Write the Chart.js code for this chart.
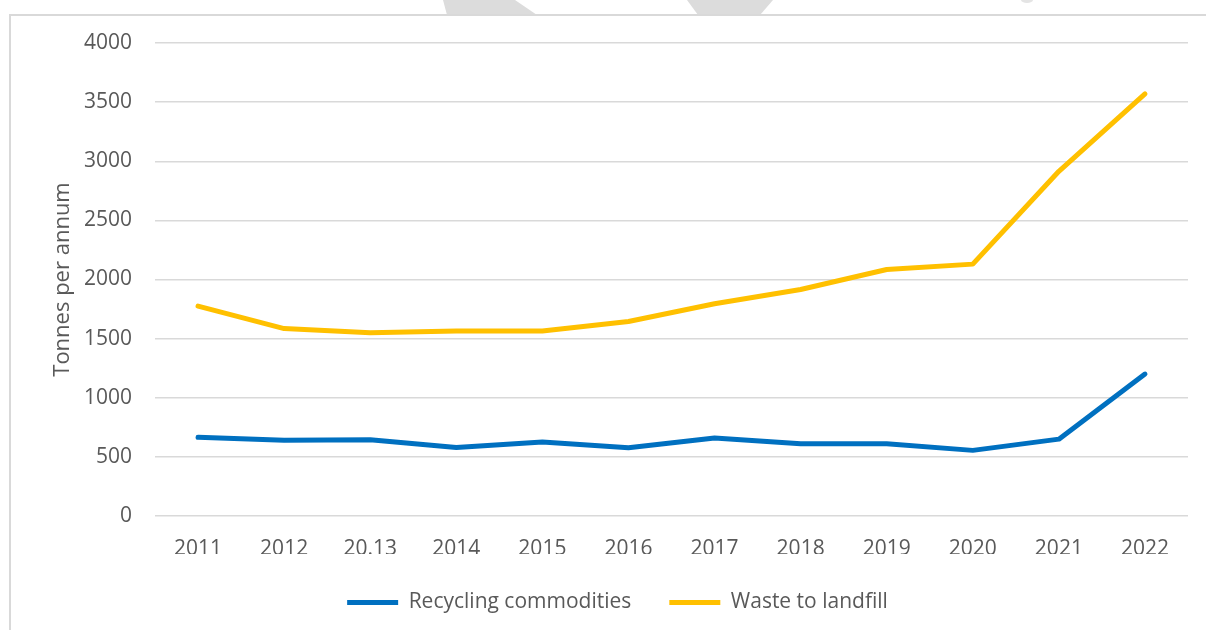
<!DOCTYPE html>
<html>
<head>
<meta charset="utf-8">
<script src="https://cdn.jsdelivr.net/npm/chart.js@4.4.1/dist/chart.umd.min.js"></script>
<style>
  html, body { margin: 0; padding: 0; background: #fff; }
  body { width: 1206px; height: 630px; position: relative; overflow: hidden; }
  .frame { position: absolute; left: 9px; top: 14px; right: -2px; bottom: -2px;
           border-left: 2px solid #d9d9d9; border-top: 2px solid #d9d9d9; }
  .mark { position: absolute; background: #dcdcdc; }
  #mark1 { left: 440px; top: 0; width: 100px; height: 15px;
           clip-path: polygon(3px 0, 75px 0, 97px 15px, 7px 15px); }
  #mark2 { left: 686px; top: 0; width: 90px; height: 15px;
           clip-path: polygon(1px 0, 87px 0, 74px 15px, 12px 15px); }
  #mark3 { left: 1021px; top: -3px; width: 12px; height: 6px; border-radius: 50%; background: #e4e4e4; }
  #wrap { position: absolute; left: 0; top: 0; width: 1206px; height: 630px; }
</style>
</head>
<body>
<div class="mark" id="mark1"></div>
<div class="mark" id="mark2"></div>
<div class="mark" id="mark3"></div>
<div class="frame"></div>
<div id="wrap"><canvas id="chart"></canvas></div>
<script>
// Données
const years = ['2011', '2012', '20.13', '2014', '2015', '2016', '2017', '2018', '2019', '2020', '2021', '2022'];
const recycling = [665, 640, 645, 580, 625, 578, 660, 610, 610, 555, 650, 1200];
const landfill = [1775, 1585, 1550, 1565, 1565, 1645, 1795, 1915, 2085, 2130, 2915, 3570];
const yTicks = [0, 500, 1000, 1500, 2000, 2500, 3000, 3500, 4000];

const textColor = '#595959';
const fontFamily = '"Open Sans", "Noto Sans", sans-serif';

new Chart(document.getElementById('chart'), {
    type: 'line',
    data: {
        labels: years,
        datasets: [{
            label: 'Recycling commodities',
            data: recycling,
            borderColor: '#0070C0',
            backgroundColor: '#0070C0',
            borderWidth: 5,
            borderCapStyle: 'round',
            borderJoinStyle: 'round',
            pointRadius: 0,
            tension: 0
        }, {
            label: 'Waste to landfill',
            data: landfill,
            borderColor: '#FFC000',
            backgroundColor: '#FFC000',
            borderWidth: 5,
            borderCapStyle: 'round',
            borderJoinStyle: 'round',
            pointRadius: 0,
            tension: 0
        }]
    },
    options: {
        responsive: true,
        maintainAspectRatio: false,
        animation: false,
        layout: {
            padding: { left: 47, right: 18, top: 43, bottom: 7 }
        },
        plugins: {
            legend: {
                position: 'bottom',
                labels: {
                    usePointStyle: true,
                    pointStyle: 'line',
                    pointStyleWidth: 51,
                    padding: 38,
                    color: textColor,
                    font: { family: fontFamily, size: 21 }
                }
            },
            tooltip: { enabled: false }
        },
        scales: {
            x: {
                offset: true,
                grid: { display: false },
                border: { display: false },
                ticks: {
                    color: textColor,
                    padding: 12,
                    maxRotation: 0,
                    font: { family: fontFamily, size: 21 }
                },
                afterFit: function(scale) { scale.height = 38; }
            },
            y: {
                min: 0,
                max: 4000,
                afterBuildTicks: function(scale) {
                    scale.ticks = yTicks.map(v => ({ value: v }));
                },
                grid: { color: '#d9d9d9', lineWidth: 1.5, drawTicks: false },
                border: { display: false },
                ticks: {
                    color: textColor,
                    padding: 23,
                    font: { family: fontFamily, size: 21 },
                    callback: function(value) { return String(value); }
                },
                title: {
                    display: true,
                    text: 'Tonnes per annum',
                    color: textColor,
                    padding: { top: 3, bottom: 0 },
                    font: { family: fontFamily, size: 22 }
                },
                afterFit: function(scale) { scale.width = 108; }
            }
        }
    }
});
</script>
</body>
</html>
